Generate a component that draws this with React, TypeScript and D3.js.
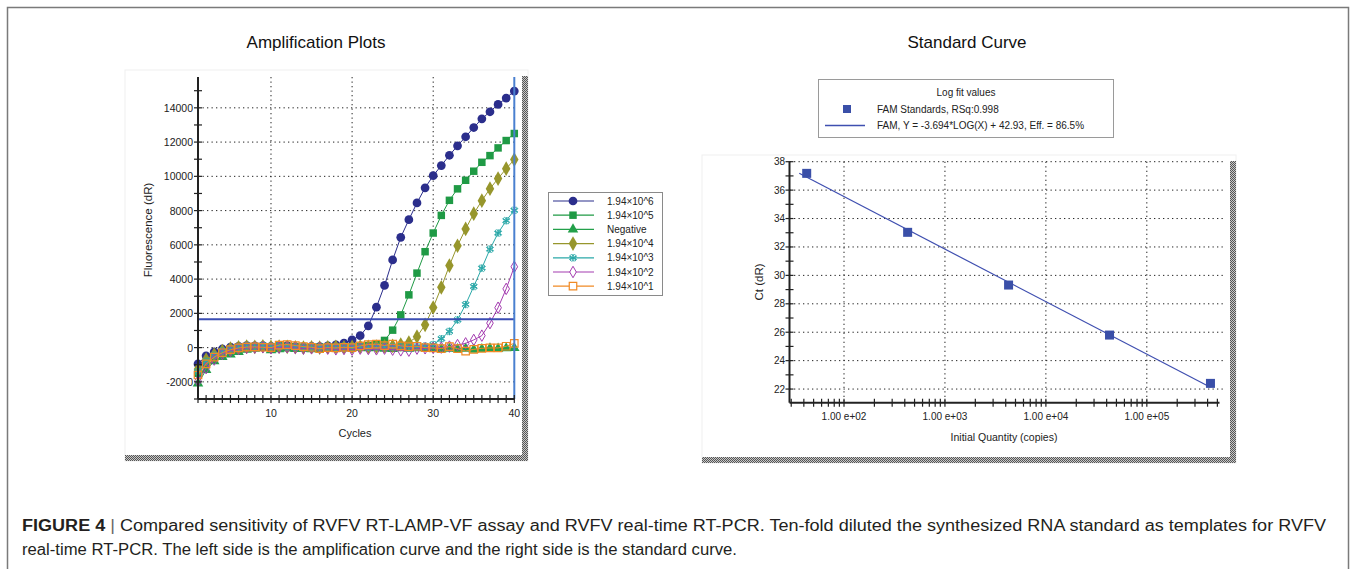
import React, { useEffect, useRef } from "react";
import * as d3 from "d3";

// ---- amplification plot data (fluorescence dR per cycle) ----
const cycles = [1, 2, 3, 4, 5, 6, 7, 8, 9, 10, 11, 12, 13, 14, 15, 16, 17, 18, 19, 20,
    21, 22, 23, 24, 25, 26, 27, 28, 29, 30, 31, 32, 33, 34, 35, 36, 37, 38, 39, 40];

const seriesNames = ["1.94\u00d710^6", "1.94\u00d710^5", "Negative", "1.94\u00d710^4", "1.94\u00d710^3", "1.94\u00d710^2", "1.94\u00d710^1"];
const seriesColors = ["#2b2e8c", "#1f9a45", "#23a04a", "#97962c", "#2aa8a8", "#a43cb0", "#f08a24"];
const seriesMarkers = ["circle", "square", "triangle", "diamond", "asterisk", "diamondOpen", "squareOpen"];

const dil1e6 = [-950, -480, -250, -80, 30, 80, 120, 100, 120, 80, 100, 120, 60, 40, 80, 60, 100, 160, 260, 450,
    700, 1270, 2360, 3630, 5120, 6440, 7470, 8450, 9330, 10040, 10630, 11230, 11780, 12310, 12850, 13360, 13770, 14200, 14570, 14980];
const dil1e5 = [-1500, -900, -500, -250, -100, 0, 50, 40, 60, 20, 80, 60, 40, 0, -20, 20, 0, 40, 60, 60,
    80, 120, 200, 420, 1020, 1910, 3080, 4350, 5600, 6690, 7720, 8600, 9270, 9770, 10300, 10820, 11210, 11660, 12090, 12500];
const negative = [-2100, -1300, -800, -550, -400, -250, -120, -60, -20, -150, -100, -50, -80, -60, -100, -80, -40, -60, -50, -20,
    0, -40, -20, -60, -80, -40, -60, -40, -20, -60, -100, -60, -80, -60, -120, -80, -40, -60, -40, -20];
const dil1e4 = [-1250, -700, -400, -200, -60, 20, 60, 40, 80, 40, 60, 40, 20, 0, 20, 0, 20, 40, 20, 40,
    60, 40, 60, 80, 100, 180, 300, 640, 1330, 2340, 3520, 4790, 5950, 6930, 7820, 8580, 9280, 9870, 10450, 10980];
const dil1e3 = [-1400, -800, -450, -200, -50, 40, 100, 60, 120, 60, 100, 40, 20, 60, 0, 20, 40, 20, 60, 40,
    60, 20, 40, 60, 40, 60, 40, 60, 80, 180, 520, 950, 1620, 2520, 3570, 4640, 5750, 6690, 7410, 8020];
const dil1e2 = [-1950, -1200, -700, -380, -200, -80, -20, 0, 20, -40, 0, 20, -20, -60, -40, -20, -60, -100, -80, -120,
    -60, -80, -100, -60, -120, -160, -180, -60, -40, -20, 0, 60, 150, 250, 450, 700, 1430, 2330, 3430, 4720];
const dil1e1 = [-1600, -950, -550, -300, -120, -20, 30, 40, 20, 0, 150, 180, 120, 60, 20, -60, 0, -20, 20, 0,
    100, 180, 200, 120, 200, 100, 60, 80, 0, -20, -60, 60, -60, -200, -100, -40, -20, -20, 80, 250];
const seriesValues = [dil1e6, dil1e5, negative, dil1e4, dil1e3, dil1e2, dil1e1];

const ampYTicks = [-2000, 0, 2000, 4000, 6000, 8000, 10000, 12000, 14000];
const ampXTicks = [10, 20, 30, 40];
const threshold = 1650;

// ---- standard curve data ----
const stdQuantity = [42.7, 427, 4270, 42700, 427000];
const stdCt = [37.18, 33.03, 29.32, 25.8, 22.4];
const fitSlope = -3.694, fitIntercept = 42.93;
const fitRange = [36, 427000];
const stdYTicks = [22, 24, 26, 28, 30, 32, 34, 36, 38];
const stdXTicks = [1e2, 1e3, 1e4, 1e5];
const stdXLabels = ["1.00 e+02", "1.00 e+03", "1.00 e+04", "1.00 e+05"];

const FONT = "'Liberation Sans', Arial, sans-serif";

function drawMarker(g: any, type: string, x: number, y: number, color: string, legend = false) {
    const sym = (t: any, size: number) => g.append("path")
        .attr("d", d3.symbol().type(t).size(size)())
        .attr("transform", `translate(${x},${y})`);
    if (type === "circle") sym(d3.symbolCircle, 60).attr("fill", color);
    else if (type === "square") sym(d3.symbolSquare, 56).attr("fill", color);
    else if (type === "triangle") sym(d3.symbolTriangle, 48).attr("fill", color);
    else if (type === "diamond") sym(d3.symbolDiamond, 62).attr("fill", color);
    else if (type === "asterisk") {
        sym(d3.symbolAsterisk, 40).attr("fill", "none").attr("stroke", color).attr("stroke-width", 1.2);
        sym(d3.symbolCross, 30).attr("fill", "none").attr("stroke", color).attr("stroke-width", 0.8)
            .attr("transform", `translate(${x},${y}) rotate(45)`);
    }
    else if (type === "diamondOpen") sym(d3.symbolDiamond, 38).attr("fill", legend ? "#fff" : "none").attr("stroke", color).attr("stroke-width", 1);
    else if (type === "squareOpen") sym(d3.symbolSquare, 56).attr("fill", legend ? "#fff" : "none").attr("stroke", color).attr("stroke-width", 1.2);
}

function panel(svg: any, x0: number, y0: number, x1: number, y1: number) {
    svg.append("rect").attr("x", x0).attr("y", y0).attr("width", x1 - x0).attr("height", y1 - y0)
        .attr("fill", "#fff").attr("stroke", "#f0f0f0");
    svg.append("rect").attr("x", x1 - 6).attr("y", y0 + 6).attr("width", 6).attr("height", y1 - y0 - 6)
        .attr("fill", "url(#hatch)");
    svg.append("rect").attr("x", x0).attr("y", y1 - 6).attr("width", x1 - x0).attr("height", 6)
        .attr("fill", "url(#hatch)");
}

const App = () => {
    const ref = useRef<SVGSVGElement>(null);

    useEffect(() => {
        const svg = d3.select(ref.current);
        svg.selectAll("*").remove();

        const defs = svg.append("defs");
        const pat = defs.append("pattern").attr("id", "hatch").attr("width", 2).attr("height", 2)
            .attr("patternUnits", "userSpaceOnUse");
        pat.append("rect").attr("width", 2).attr("height", 2).attr("fill", "#c8c8c8");
        pat.append("rect").attr("width", 1).attr("height", 1).attr("fill", "#555");
        pat.append("rect").attr("x", 1).attr("y", 1).attr("width", 1).attr("height", 1).attr("fill", "#555");

        // outer frame
        svg.append("rect").attr("x", 7.5).attr("y", 7.5).attr("width", 1341).attr("height", 580)
            .attr("fill", "none").attr("stroke", "#7a7a7a").attr("stroke-width", 1.5);

        // titles
        svg.append("text").attr("x", 316).attr("y", 48).attr("text-anchor", "middle")
            .attr("font-family", FONT).attr("font-size", 17).attr("fill", "#111").text("Amplification Plots");
        svg.append("text").attr("x", 967).attr("y", 48).attr("text-anchor", "middle")
            .attr("font-family", FONT).attr("font-size", 17).attr("fill", "#111").text("Standard Curve");

        // ================= Amplification plot =================
        panel(svg, 125, 70, 528, 461);
        const ax = d3.scaleLinear().domain([1, 40]).range([198, 514.3]);
        const ay = d3.scaleLinear().domain([-3000, 15800]).range([399, 77]);
        const ga = svg.append("g");

        // dotted grid
        ga.selectAll("line.hg").data(ampYTicks).enter().append("line")
            .attr("x1", ax(1)).attr("x2", ax(40)).attr("y1", (d: number) => ay(d)).attr("y2", (d: number) => ay(d))
            .attr("stroke", "#222").attr("stroke-dasharray", "1.3,3.2");
        ga.selectAll("line.vg").data(ampXTicks.slice(0, 3)).enter().append("line")
            .attr("x1", (d: number) => ax(d)).attr("x2", (d: number) => ax(d)).attr("y1", ay(15800)).attr("y2", ay(-3000))
            .attr("stroke", "#222").attr("stroke-dasharray", "1.3,3.2");

        // series
        seriesValues.forEach((vals, i) => {
            const pts = cycles.map((c, j) => [ax(c), ay(vals[j])] as [number, number]);
            ga.append("path").attr("d", d3.line()(pts)).attr("fill", "none")
                .attr("stroke", seriesColors[i]).attr("stroke-width", 1);
            pts.forEach(p => drawMarker(ga, seriesMarkers[i], p[0], p[1], seriesColors[i]));
        });

        // threshold + end line
        ga.append("line").attr("x1", ax(1)).attr("x2", ax(40)).attr("y1", ay(threshold)).attr("y2", ay(threshold))
            .attr("stroke", "#3a4db3").attr("stroke-width", 2);
        ga.append("line").attr("x1", ax(40)).attr("x2", ax(40)).attr("y1", ay(15800)).attr("y2", ay(-3000))
            .attr("stroke", "#4a80d0").attr("stroke-width", 2);

        // y axis
        ga.append("line").attr("x1", ax(1)).attr("x2", ax(1)).attr("y1", ay(15800)).attr("y2", ay(-3000))
            .attr("stroke", "#222").attr("stroke-width", 2);
        ga.selectAll("line.ayt").data(d3.range(-3000, 16000, 1000)).enter().append("line")
            .attr("x1", ax(1) - 4).attr("x2", ax(1) + 4).attr("y1", (d: number) => ay(d)).attr("y2", (d: number) => ay(d))
            .attr("stroke", "#222").attr("stroke-width", 1.2);
        ga.selectAll("text.ayl").data(ampYTicks).enter().append("text")
            .attr("x", 193).attr("y", (d: number) => ay(d) + 4).attr("text-anchor", "end")
            .attr("font-family", FONT).attr("font-size", 10.5).attr("fill", "#222").text((d: number) => String(d));
        // x axis
        ga.append("line").attr("x1", ax(1)).attr("x2", ax(40)).attr("y1", ay(-3000)).attr("y2", ay(-3000))
            .attr("stroke", "#222").attr("stroke-width", 2);
        ga.selectAll("line.axt").data(cycles).enter().append("line")
            .attr("x1", (d: number) => ax(d)).attr("x2", (d: number) => ax(d)).attr("y1", ay(-3000) - 4).attr("y2", ay(-3000) + 4)
            .attr("stroke", "#222").attr("stroke-width", 1.2);
        ga.selectAll("text.axl").data(ampXTicks).enter().append("text")
            .attr("x", (d: number) => ax(d)).attr("y", 417).attr("text-anchor", "middle")
            .attr("font-family", FONT).attr("font-size", 10.5).attr("fill", "#222").text((d: number) => String(d));
        ga.append("text").attr("x", 355).attr("y", 437).attr("text-anchor", "middle")
            .attr("font-family", FONT).attr("font-size", 11).attr("fill", "#222").text("Cycles");
        ga.append("text").attr("transform", "translate(152,230) rotate(-90)").attr("text-anchor", "middle")
            .attr("font-family", FONT).attr("font-size", 11.5).attr("fill", "#222").text("Fluorescence (dR)");

        // legend
        const lg = svg.append("g");
        lg.append("rect").attr("x", 548.5).attr("y", 192.5).attr("width", 114).attr("height", 103)
            .attr("fill", "#fff").attr("stroke", "#8a8a8a");
        seriesNames.forEach((name, i) => {
            const y = 201 + i * 14.2;
            lg.append("line").attr("x1", 553).attr("x2", 594).attr("y1", y).attr("y2", y)
                .attr("stroke", seriesColors[i]).attr("stroke-width", 1.2);
            drawMarker(lg, seriesMarkers[i], 573, y, seriesColors[i], true);
            lg.append("text").attr("x", 607).attr("y", y + 3.5).attr("font-family", FONT).attr("font-size", 10)
                .attr("fill", "#222").text(name);
        });

        // ================= Standard curve =================
        panel(svg, 702, 155, 1236, 463);
        const sx = d3.scaleLog().domain([Math.pow(10, 1.46), Math.pow(10, 5.72)]).range([789.5, 1219.5]);
        const sy = d3.scaleLinear().domain([21.04, 38]).range([402.7, 161.7]);
        const gs = svg.append("g");

        gs.selectAll("line.hg").data(stdYTicks).enter().append("line")
            .attr("x1", sx.range()[0]).attr("x2", sx.range()[1] + 4).attr("y1", (d: number) => sy(d)).attr("y2", (d: number) => sy(d))
            .attr("stroke", "#222").attr("stroke-dasharray", "1.3,3.2");
        gs.selectAll("line.vg").data(stdXTicks).enter().append("line")
            .attr("x1", (d: number) => sx(d)).attr("x2", (d: number) => sx(d)).attr("y1", sy(38)).attr("y2", sy(21.04))
            .attr("stroke", "#222").attr("stroke-dasharray", "1.3,3.2");

        // axes
        gs.append("line").attr("x1", sx.range()[0]).attr("x2", sx.range()[0]).attr("y1", sy(38)).attr("y2", sy(21.04))
            .attr("stroke", "#222").attr("stroke-width", 2);
        gs.append("line").attr("x1", sx.range()[0]).attr("x2", sx.range()[1]).attr("y1", sy(21.04)).attr("y2", sy(21.04))
            .attr("stroke", "#222").attr("stroke-width", 2);
        gs.selectAll("line.syt").data(d3.range(22, 39, 1)).enter().append("line")
            .attr("x1", sx.range()[0] - 4).attr("x2", sx.range()[0] + 4).attr("y1", (d: number) => sy(d)).attr("y2", (d: number) => sy(d))
            .attr("stroke", "#222").attr("stroke-width", 1.2);
        gs.selectAll("text.syl").data(stdYTicks).enter().append("text")
            .attr("x", 785).attr("y", (d: number) => sy(d) + 3.5).attr("text-anchor", "end")
            .attr("font-family", FONT).attr("font-size", 10).attr("fill", "#222").text((d: number) => String(d));
        gs.selectAll("line.sxt").data(sx.ticks()).enter().append("line")
            .attr("x1", (d: number) => sx(d)).attr("x2", (d: number) => sx(d)).attr("y1", sy(21.04) - 4).attr("y2", sy(21.04) + 4)
            .attr("stroke", "#222").attr("stroke-width", 1.2);
        gs.selectAll("text.sxl").data(stdXTicks).enter().append("text")
            .attr("x", (d: number) => sx(d)).attr("y", 420).attr("text-anchor", "middle")
            .attr("font-family", FONT).attr("font-size", 10).attr("fill", "#222").text((d: number, i: number) => stdXLabels[i]);
        gs.append("text").attr("x", 1004).attr("y", 441).attr("text-anchor", "middle")
            .attr("font-family", FONT).attr("font-size", 10.5).attr("fill", "#222").text("Initial Quantity (copies)");
        gs.append("text").attr("transform", "translate(763,282) rotate(-90)").attr("text-anchor", "middle")
            .attr("font-family", FONT).attr("font-size", 11.5).attr("fill", "#222").text("Ct (dR)");

        // fit line + points
        const fit = (q: number) => fitSlope * Math.log10(q) + fitIntercept;
        gs.append("line").attr("x1", sx(fitRange[0])).attr("y1", sy(fit(fitRange[0])))
            .attr("x2", sx(fitRange[1])).attr("y2", sy(fit(fitRange[1])))
            .attr("stroke", "#3f4fb0").attr("stroke-width", 1.2);
        stdQuantity.forEach((q, i) => {
            gs.append("rect").attr("x", sx(q) - 4.5).attr("y", sy(stdCt[i]) - 4.5).attr("width", 9).attr("height", 9)
                .attr("fill", "#3a4fa8");
        });

        // legend
        const sl = svg.append("g");
        sl.append("rect").attr("x", 818.5).attr("y", 79.5).attr("width", 295).attr("height", 58)
            .attr("fill", "#fff").attr("stroke", "#9a9a9a");
        sl.append("text").attr("x", 966).attr("y", 96).attr("text-anchor", "middle").attr("font-family", FONT)
            .attr("font-size", 10).attr("fill", "#222").text("Log fit values");
        sl.append("rect").attr("x", 843).attr("y", 105).attr("width", 8).attr("height", 8).attr("fill", "#3a4fa8");
        sl.append("text").attr("x", 877).attr("y", 113).attr("font-family", FONT)
            .attr("font-size", 10).attr("fill", "#222").text("FAM Standards, RSq:0.998");
        sl.append("line").attr("x1", 825).attr("x2", 865).attr("y1", 125.5).attr("y2", 125.5)
            .attr("stroke", "#3f4fb0").attr("stroke-width", 1.3);
        sl.append("text").attr("x", 877).attr("y", 129).attr("font-family", FONT)
            .attr("font-size", 10).attr("fill", "#222").text("FAM, Y = -3.694*LOG(X) + 42.93, Eff. = 86.5%");

        // caption
        const cap = svg.append("g").attr("font-family", FONT).attr("fill", "#231f20").attr("font-size", 16);
        const l1 = cap.append("text").attr("x", 22).attr("y", 531).attr("textLength", 1304)
            .attr("lengthAdjust", "spacingAndGlyphs");
        l1.append("tspan").attr("font-weight", "bold").text("FIGURE 4");
        l1.append("tspan").attr("fill", "#666").text(" | ");
        l1.append("tspan").text("Compared sensitivity of RVFV RT-LAMP-VF assay and RVFV real-time RT-PCR. Ten-fold diluted the synthesized RNA standard as templates for RVFV");
        cap.append("text").attr("x", 22).attr("y", 555).attr("textLength", 715).attr("lengthAdjust", "spacingAndGlyphs")
            .text("real-time RT-PCR. The left side is the amplification curve and the right side is the standard curve.");
    }, []);

    return (
        <svg ref={ref} width={1356} height={569}
            style={{ position: "absolute", left: 0, top: 0, background: "#fff" }} />
    );
};

export default App;
